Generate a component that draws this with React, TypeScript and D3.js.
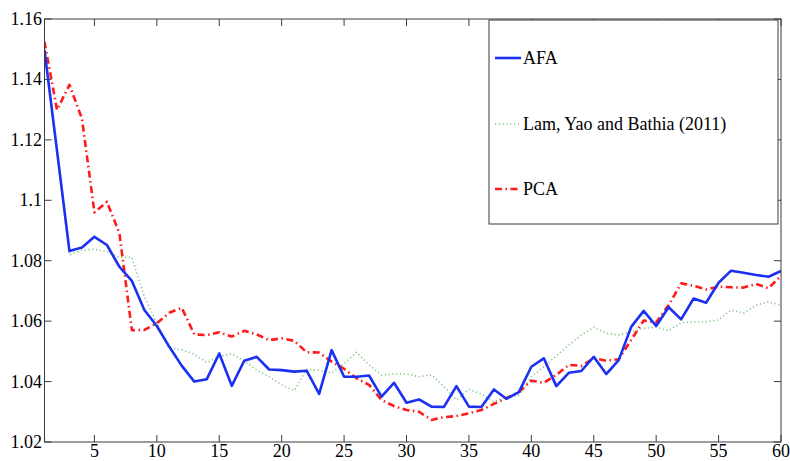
import React from "react";
import * as d3 from "d3";

const xs: number[] = d3.range(1, 61);

const afa: number[] = [
  1.1497, 1.1165, 1.0832, 1.0844, 1.0879, 1.0852, 1.078, 1.0733, 1.0637, 1.0584,
  1.0515, 1.0452, 1.0400, 1.0408, 1.0493, 1.0386, 1.0469, 1.0482, 1.0440, 1.0438,
  1.0433, 1.0436, 1.0359, 1.0504, 1.0416, 1.0416, 1.0420, 1.0350, 1.0396, 1.0330,
  1.0341, 1.0317, 1.0316, 1.0385, 1.0317, 1.0316, 1.0374, 1.0343, 1.0365, 1.0449,
  1.0477, 1.0385, 1.0429, 1.0435, 1.0482, 1.0425, 1.0471, 1.0581, 1.0634, 1.0584,
  1.0646, 1.0606, 1.0675, 1.0661, 1.0727, 1.0767, 1.0760, 1.0753, 1.0747, 1.0766,
];

const lam: number[] = [
  1.1490, 1.1150, 1.0819, 1.0835, 1.0838, 1.0830, 1.0811, 1.0811, 1.0681, 1.0593,
  1.0510, 1.0505, 1.0490, 1.0463, 1.0484, 1.0492, 1.0468, 1.0438, 1.0416, 1.0389,
  1.0370, 1.0440, 1.0437, 1.0429, 1.0460, 1.0497, 1.0455, 1.0422, 1.0425, 1.0425,
  1.0416, 1.0422, 1.0383, 1.0339, 1.0374, 1.0359, 1.0333, 1.0350, 1.0355, 1.0416,
  1.0449, 1.0485, 1.0521, 1.0554, 1.0580, 1.0560, 1.0554, 1.0565, 1.0576, 1.0580,
  1.0568, 1.0595, 1.0598, 1.0598, 1.0604, 1.0637, 1.0626, 1.0653, 1.0664, 1.0653,
];

const pca: number[] = [
  1.1525, 1.1299, 1.1382, 1.1270, 1.0960, 1.0995, 1.0891, 1.0570, 1.0571, 1.0593,
  1.0628, 1.0644, 1.0556, 1.0554, 1.0563, 1.0549, 1.0568, 1.0556, 1.0537, 1.0543,
  1.0535, 1.0497, 1.0496, 1.0466, 1.0442, 1.0411, 1.0389, 1.0339, 1.0319, 1.0306,
  1.0300, 1.0273, 1.0282, 1.0286, 1.0295, 1.0306, 1.0326, 1.0345, 1.0365, 1.0403,
  1.0396, 1.0422, 1.0455, 1.0452, 1.0477, 1.0469, 1.0474, 1.0538, 1.0602, 1.0596,
  1.0653, 1.0725, 1.0717, 1.0705, 1.0714, 1.0712, 1.0711, 1.0723, 1.0709, 1.0750,
];

const xTicks: number[] = [5, 10, 15, 20, 25, 30, 35, 40, 45, 50, 55, 60];
const yTicks: number[] = [1.02, 1.04, 1.06, 1.08, 1.1, 1.12, 1.14, 1.16];

const seriesNames: string[] = ["AFA", "Lam, Yao and Bathia (2011)", "PCA"];

const W = 790;
const H = 461;
const L = 44.5;
const R = 781;
const T = 19;
const B = 442;

const FONT = "Liberation Serif, Times New Roman, Times, DejaVu Serif, serif";

export default function App() {
  const x = d3.scaleLinear().domain([1, 60]).range([L, R]);
  const y = d3.scaleLinear().domain([1.02, 1.16]).range([B, T]);
  const line = d3
    .line<number>()
    .x((_, i) => x(xs[i]))
    .y((d) => y(d));

  const styles = [
    { data: afa, stroke: "#1a30f2", width: 2.6, dash: undefined as string | undefined },
    { data: lam, stroke: "#88c488", width: 1.6, dash: "1.2,2.6" },
    { data: pca, stroke: "#ff1a1a", width: 2.6, dash: "7,3.5,1.5,3.5" },
  ];

  const axisColor = "#3a3a3a";
  const legendY = [58, 124, 189];
  const textStyle = { fontFamily: FONT, fontSize: "18px" };

  return (
    <svg
      width={W}
      height={H}
      style={{ position: "absolute", left: 0, top: 0, display: "block", background: "#fff" }}
    >
      <rect x={0} y={0} width={W} height={H} fill="#fff" />
      <defs>
        <clipPath id="plotclip">
          <rect x={L} y={T} width={R - L} height={B - T} />
        </clipPath>
      </defs>
      {xTicks.map((t) => (
        <g key={"xt" + t}>
          <line x1={x(t)} x2={x(t)} y1={B} y2={B - 7} stroke={axisColor} strokeWidth={1} />
          <line x1={x(t)} x2={x(t)} y1={T} y2={T + 7} stroke={axisColor} strokeWidth={1} />
          <text x={x(t)} y={457} textAnchor="middle" style={textStyle} fill="#000">
            {t}
          </text>
        </g>
      ))}
      {yTicks.map((t) => (
        <g key={"yt" + t}>
          <line x1={L} x2={L + 7} y1={y(t)} y2={y(t)} stroke={axisColor} strokeWidth={1} />
          <line x1={R} x2={R - 7} y1={y(t)} y2={y(t)} stroke={axisColor} strokeWidth={1} />
          <text x={42} y={y(t) + 6} textAnchor="end" style={textStyle} fill="#000">
            {String(+t.toFixed(2))}
          </text>
        </g>
      ))}
      <g clipPath="url(#plotclip)">
        {[1, 2, 0].map((k) => {
          const s = styles[k];
          return (
            <path
              key={"s" + k}
              d={line(s.data) || ""}
              fill="none"
              stroke={s.stroke}
              strokeWidth={s.width}
              strokeDasharray={s.dash}
              strokeLinejoin="round"
            />
          );
        })}
      </g>
      <rect x={L} y={T} width={R - L} height={B - T} fill="none" stroke={axisColor} strokeWidth={1} />
      <rect x={489} y={20} width={289} height={204} fill="#fff" stroke={axisColor} strokeWidth={1} />
      {seriesNames.map((name, i) => {
        const s = styles[i];
        return (
          <g key={"lg" + i}>
            <line
              x1={495}
              x2={521}
              y1={legendY[i]}
              y2={legendY[i]}
              stroke={s.stroke}
              strokeWidth={s.width}
              strokeDasharray={s.dash}
            />
            <text x={523} y={legendY[i] + 6} style={textStyle} fill="#000">
              {name}
            </text>
          </g>
        );
      })}
    </svg>
  );
}
